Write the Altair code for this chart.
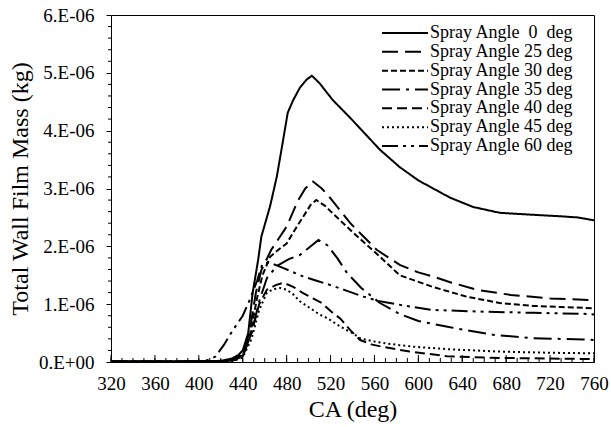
import altair as alt
import pandas as pd

# ---- data (mass in 1e-6 kg) ----
series_names = [
    "Spray Angle\u00a0\u00a00\u00a0\u00a0deg",
    "Spray Angle 25 deg",
    "Spray Angle 30 deg",
    "Spray Angle 35 deg",
    "Spray Angle 40 deg",
    "Spray Angle 45 deg",
    "Spray Angle 60 deg",
]

ca_0 = [320, 380, 420, 430, 436, 440, 445, 449, 454, 457, 465, 471, 476, 481, 486, 492, 498, 503, 510, 522, 538, 565, 583, 600, 629, 650, 674, 700, 729, 745, 760]
m_0 = [0.01, 0.01, 0.02, 0.06, 0.12, 0.2, 0.5, 1.19, 1.76, 2.17, 2.7, 3.2, 3.75, 4.31, 4.53, 4.74, 4.88, 4.95, 4.82, 4.53, 4.22, 3.67, 3.37, 3.14, 2.84, 2.68, 2.58, 2.55, 2.52, 2.5, 2.45]

ca_25 = [320, 420, 430, 440, 446, 452, 457, 466, 480, 490, 497, 504, 512, 520, 538, 562, 583, 600, 613, 629, 653, 684, 720, 760]
m_25 = [0.01, 0.01, 0.03, 0.15, 0.5, 1.2, 1.59, 1.94, 2.34, 2.78, 3.0, 3.12, 3.0, 2.83, 2.4, 1.94, 1.68, 1.55, 1.48, 1.38, 1.25, 1.16, 1.1, 1.07]

ca_30 = [320, 420, 430, 440, 447, 453, 458, 465, 473, 480, 488, 495, 502, 507, 515, 522, 541, 565, 583, 613, 644, 674, 704, 730, 760]
m_30 = [0.01, 0.01, 0.03, 0.12, 0.5, 1.1, 1.5, 1.82, 1.95, 2.05, 2.3, 2.51, 2.72, 2.8, 2.7, 2.57, 2.23, 1.82, 1.5, 1.3, 1.13, 1.02, 0.97, 0.95, 0.93]

ca_35 = [320, 420, 432, 440, 448, 455, 462, 471, 482, 492, 498, 509, 517, 526, 535, 548, 565, 583, 600, 629, 668, 705, 750, 760]
m_35 = [0.01, 0.01, 0.03, 0.1, 0.5, 1.05, 1.45, 1.66, 1.78, 1.85, 1.94, 2.11, 2.02, 1.8, 1.54, 1.28, 1.02, 0.83, 0.71, 0.6, 0.47, 0.41, 0.39, 0.38]

ca_40 = [320, 420, 432, 440, 448, 455, 462, 470, 477, 486, 495, 504, 512, 520, 529, 538, 547, 558, 568, 592, 626, 674, 720, 760]
m_40 = [0.01, 0.01, 0.03, 0.1, 0.5, 1.0, 1.25, 1.33, 1.37, 1.3, 1.19, 1.1, 1.02, 0.88, 0.75, 0.55, 0.38, 0.3, 0.26, 0.18, 0.1, 0.07, 0.06, 0.05]

ca_45 = [320, 420, 432, 440, 448, 455, 462, 468, 474, 480, 486, 492, 500, 510, 517, 529, 540, 547, 558, 568, 583, 598, 629, 674, 720, 760]
m_45 = [0.01, 0.01, 0.02, 0.08, 0.4, 0.9, 1.2, 1.26, 1.28, 1.25, 1.17, 1.05, 0.95, 0.82, 0.76, 0.61, 0.5, 0.41, 0.36, 0.33, 0.29, 0.26, 0.22, 0.18, 0.16, 0.15]

ca_60 = [320, 405, 415, 423, 431, 440, 447, 453, 458, 464, 475, 485, 495, 508, 520, 535, 550, 565, 592, 613, 659, 705, 756, 760]
m_60 = [0.01, 0.01, 0.09, 0.3, 0.55, 0.8, 1.1, 1.4, 1.7, 1.72, 1.64, 1.56, 1.48, 1.4, 1.33, 1.23, 1.13, 1.05, 0.96, 0.9, 0.87, 0.85, 0.83, 0.82]

x_major = [320, 360, 400, 440, 480, 520, 560, 600, 640, 680, 720, 760]
x_minor = list(range(320, 761, 10))
y_major = [0, 1, 2, 3, 4, 5, 6]
y_minor = [0.2, 0.4, 0.6, 0.8, 1.2, 1.4, 1.6, 1.8, 2.2, 2.4, 2.6, 2.8,
           3.2, 3.4, 3.6, 3.8, 4.2, 4.4, 4.6, 4.8, 5.2, 5.4, 5.6, 5.8]

dash_styles = [[1, 0], [16, 7], [6, 3], [18, 6, 3, 6], [10, 5], [2, 3], [16, 5, 3, 5, 3, 5]]

all_ca = [ca_0, ca_25, ca_30, ca_35, ca_40, ca_45, ca_60]
all_m = [m_0, m_25, m_30, m_35, m_40, m_45, m_60]

rows = []
for name, cas, ms in zip(series_names, all_ca, all_m):
    for c, m in zip(cas, ms):
        rows.append({"ca": c, "mass": m * 1e-6, "series": name})
df = pd.DataFrame(rows)

FONT = "Liberation Serif"
W, H = 483, 347
YMAX = 6e-6

xscale = alt.Scale(domain=[320, 760], nice=False, zero=False)
yscale = alt.Scale(domain=[0, YMAX], nice=False)
dash_scale = alt.Scale(domain=series_names, range=dash_styles)

lines = alt.Chart(df).mark_line(strokeWidth=2, color="black", clip=True).encode(
    x=alt.X("ca:Q", scale=xscale, title="CA (deg)",
            axis=alt.Axis(values=x_major, ticks=False, tickSize=0, labelPadding=12,
                          labelFlush=False, labelOverlap=False,
                          titlePadding=4, format="d")),
    y=alt.Y("mass:Q", scale=yscale, title="Total Wall Film Mass (kg)",
            axis=alt.Axis(values=[v * 1e-6 for v in y_major], tickSize=5, labelPadding=12,
                          labelFlush=False, labelOverlap=False,
                          titlePadding=6,
                          labelExpr="datum.value == 0 ? '0.E+00' : format(datum.value*1e6, '.0f') + '.E-06'")),
    strokeDash=alt.StrokeDash("series:N", scale=dash_scale, legend=None),
    detail="series:N",
)

xmaj_df = pd.DataFrame({"ca": x_major})
xmin_df = pd.DataFrame({"ca": x_minor})
ymin_df = pd.DataFrame({"mass": [v * 1e-6 for v in y_minor]})

xmaj = alt.Chart(xmaj_df).mark_rule(color="black", strokeWidth=1).encode(
    x=alt.X("ca:Q", scale=xscale), y=alt.value(H), y2=alt.value(H - 7))
xmin = alt.Chart(xmin_df).mark_rule(color="black", strokeWidth=1).encode(
    x=alt.X("ca:Q", scale=xscale), y=alt.value(H), y2=alt.value(H - 4))
ymin = alt.Chart(ymin_df).mark_rule(color="black", strokeWidth=1).encode(
    y=alt.Y("mass:Q", scale=yscale), x=alt.value(-3), x2=alt.value(0))

main = alt.layer(lines, xmaj, xmin, ymin)

leg_df = pd.DataFrame({"series": series_names, "row": list(range(len(series_names)))})
leg_y = alt.Y("row:Q", scale=alt.Scale(domain=[0, 6], range=[18, 131], nice=False, zero=False), axis=None)
leg_rule = alt.Chart(leg_df).mark_rule(strokeWidth=2, color="black").encode(
    x=alt.value(271), x2=alt.value(317), y=leg_y,
    strokeDash=alt.StrokeDash("series:N", scale=dash_scale, legend=None))
leg_text = alt.Chart(leg_df).mark_text(align="left", baseline="middle", font=FONT, fontSize=18, color="black").encode(
    x=alt.value(319), y=leg_y, text="series:N")
legend = alt.layer(leg_rule, leg_text)

chart = alt.layer(main, legend).resolve_scale(y="independent").properties(
    width=W, height=H,
    autosize=alt.AutoSizeParams(type="none"),
    padding={"left": 111, "top": 15, "right": 17, "bottom": 65},
).configure_view(stroke="black", strokeWidth=1).configure_axis(
    labelFont=FONT, labelFontSize=19, labelColor="black",
    titleFont=FONT, titleFontSize=24, titleFontWeight="normal", titleColor="black",
    domainColor="black", tickColor="black", grid=False,
)

chart.save("out.html", embed_options={"renderer": "svg", "actions": False})
